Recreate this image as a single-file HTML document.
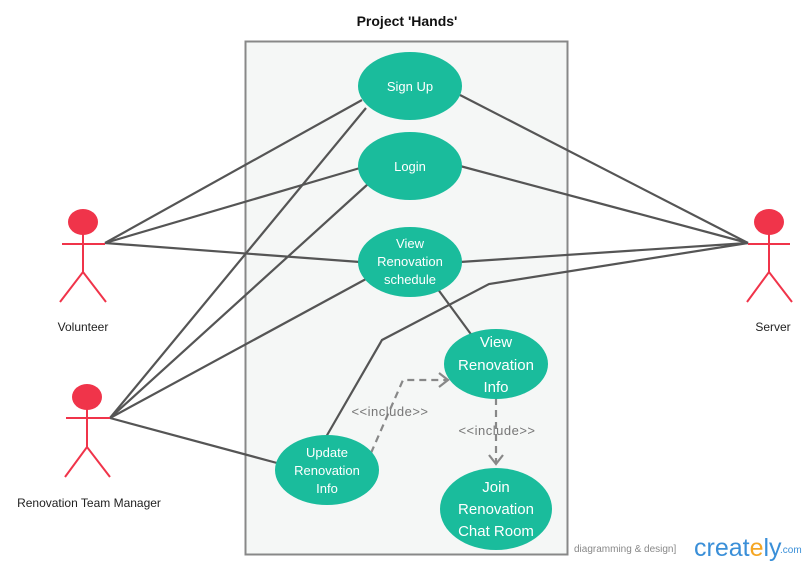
<!DOCTYPE html>
<html><head><meta charset="utf-8"><style>
body{margin:0;background:#fff;width:806px;height:566px;overflow:hidden}
svg{display:block;font-family:"Liberation Sans",sans-serif}
</style></head><body>
<svg width="806" height="566" viewBox="0 0 806 566">
<text x="407" y="26" font-size="14" font-weight="bold" text-anchor="middle" fill="#111">Project 'Hands'</text>
<rect x="245.5" y="41.5" width="322" height="513" fill="#f5f7f6" stroke="#888" stroke-width="2"/>
<g stroke="#555" stroke-width="2.2" fill="none">
<line x1="105" y1="243" x2="362" y2="100"/>
<line x1="105" y1="243" x2="360" y2="168"/>
<line x1="105" y1="243" x2="360" y2="262"/>
<line x1="110" y1="418" x2="366" y2="108"/>
<line x1="110" y1="418" x2="368" y2="184"/>
<line x1="110" y1="418" x2="366" y2="279"/>
<line x1="110" y1="418" x2="277" y2="463"/>
<line x1="748" y1="243" x2="460" y2="95"/>
<line x1="748" y1="243" x2="460" y2="166"/>
<line x1="748" y1="243" x2="460" y2="262"/>
<polyline points="748,243 489,284 382,340 326,437"/>
<line x1="437" y1="288" x2="473" y2="337"/>
</g>
<g stroke="#888" stroke-width="2.2" fill="none" stroke-dasharray="7,5">
<polyline points="371,453 403,380 446,380"/>
<line x1="496" y1="398" x2="496" y2="462"/>
</g>
<g stroke="#888" stroke-width="2.2" fill="none">
<polyline points="439,373 448,380 439,387"/>
<polyline points="489,455 496,464 503,455"/>
</g>
<g fill="#1abc9c">
<ellipse cx="410" cy="86" rx="52" ry="34"/>
<ellipse cx="410" cy="166" rx="52" ry="34"/>
<ellipse cx="410" cy="262" rx="52" ry="35"/>
<ellipse cx="496" cy="364" rx="52" ry="35"/>
<ellipse cx="327" cy="470" rx="52" ry="35"/>
<ellipse cx="496" cy="509" rx="56" ry="41"/>
</g>
<g fill="#fff" text-anchor="middle" font-size="13">
<text x="410" y="91">Sign Up</text>
<text x="410" y="171">Login</text>
<text x="410" y="248">View</text><text x="410" y="266">Renovation</text><text x="410" y="284">schedule</text>
<text x="327" y="457">Update</text><text x="327" y="475">Renovation</text><text x="327" y="493">Info</text>
<g font-size="15"><text x="496" y="347">View</text><text x="496" y="370">Renovation</text><text x="496" y="392">Info</text>
<text x="496" y="492">Join</text><text x="496" y="514">Renovation</text><text x="496" y="536">Chat Room</text></g>
</g>
<g fill="#777" font-size="13" text-anchor="middle" letter-spacing="0.5">
<text x="390" y="416">&lt;&lt;include&gt;&gt;</text>
<text x="497" y="435">&lt;&lt;include&gt;&gt;</text>
</g>
<g stroke="#f0344a" stroke-width="2" fill="none">
<line x1="62" y1="244" x2="105" y2="244"/><line x1="83" y1="234" x2="83" y2="272"/><polyline points="60,302 83,272 106,302"/>
<line x1="66" y1="418" x2="110" y2="418"/><line x1="87" y1="408" x2="87" y2="447"/><polyline points="65,477 87,447 110,477"/>
<line x1="748" y1="244" x2="790" y2="244"/><line x1="769" y1="234" x2="769" y2="272"/><polyline points="747,302 769,272 792,302"/>
</g>
<g fill="#f0344a">
<ellipse cx="83" cy="222" rx="15" ry="13"/>
<ellipse cx="87" cy="397" rx="15" ry="13"/>
<ellipse cx="769" cy="222" rx="15" ry="13"/>
</g>
<g fill="#222" font-size="12" text-anchor="middle">
<text x="83" y="331">Volunteer</text>
<text x="89" y="507">Renovation Team Manager</text>
<text x="773" y="331">Server</text>
</g>
<text x="574" y="552" font-size="10" fill="#888">diagramming &amp; design]</text>
<text x="694" y="556" font-size="25" fill="#3a8fd8">creat<tspan fill="#f5a623">e</tspan>ly</text>
<text x="780" y="553" font-size="10" fill="#3a8fd8">.com</text>
</svg>
</body></html>
